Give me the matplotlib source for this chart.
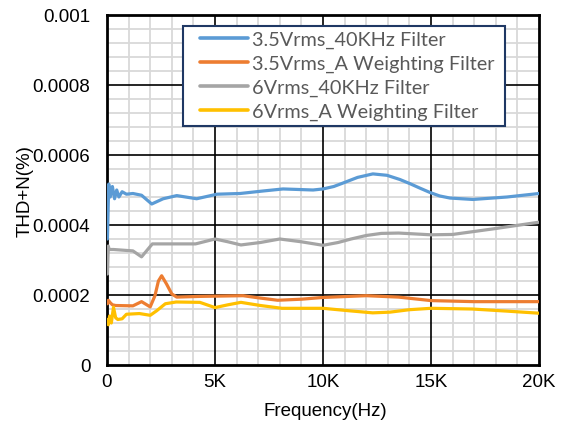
import matplotlib
matplotlib.use("Agg")
import matplotlib.pyplot as plt
from matplotlib.patches import Rectangle
from matplotlib.ticker import FixedLocator, FixedFormatter

# ---------------- data ----------------
series_names = ["3.5Vrms_40KHz Filter", "3.5Vrms_A Weighting Filter",
                "6Vrms_40KHz Filter", "6Vrms_A Weighting Filter"]
series_colors = ["#5B9BD5", "#ED7D31", "#A5A5A5", "#FFC000"]

blue_f = [20, 80, 150, 250, 350, 450, 550, 700, 900, 1200, 1600, 2070, 2600, 3230,
          4150, 5090, 6160, 7200, 8150, 9540, 10000, 10500, 10930, 11600, 12310, 12960,
          13560, 14030, 14500, 14950, 15400, 15880, 16940, 18520, 20000]
blue_v = [3.6e-4, 5.17e-4, 4.8e-4, 5.1e-4, 4.75e-4, 5.0e-4, 4.8e-4, 4.95e-4, 4.88e-4,
          4.9e-4, 4.85e-4, 4.6e-4, 4.75e-4, 4.84e-4, 4.75e-4, 4.88e-4, 4.9e-4, 4.97e-4,
          5.03e-4, 5.0e-4, 5.03e-4, 5.1e-4, 5.2e-4, 5.36e-4, 5.46e-4, 5.42e-4,
          5.3e-4, 5.18e-4, 5.05e-4, 4.93e-4, 4.83e-4, 4.77e-4, 4.73e-4, 4.8e-4, 4.9e-4]

orange_f = [20, 60, 150, 250, 400, 1200, 1600, 2000, 2220, 2380, 2530, 2760, 3000, 3230,
            4300, 6300, 7000, 7900, 9000, 10000, 12000, 13500, 15000, 17000, 20000]
orange_v = [1.75e-4, 1.85e-4, 1.78e-4, 1.72e-4, 1.7e-4, 1.69e-4, 1.81e-4, 1.66e-4,
            1.98e-4, 2.4e-4, 2.55e-4, 2.31e-4, 2.03e-4, 1.94e-4, 1.96e-4, 1.98e-4,
            1.92e-4, 1.85e-4, 1.88e-4, 1.93e-4, 1.98e-4, 1.94e-4, 1.84e-4, 1.81e-4, 1.81e-4]

gray_f = [20, 60, 100, 300, 1200, 1600, 2100, 4100, 5000, 5600, 6200, 7100, 8000, 9000,
          10000, 10700, 11300, 12000, 12700, 13500, 15000, 16000, 18000, 20000]
gray_v = [2.6e-4, 3.4e-4, 3.3e-4, 3.3e-4, 3.26e-4, 3.09e-4, 3.46e-4, 3.46e-4, 3.6e-4,
          3.52e-4, 3.43e-4, 3.5e-4, 3.6e-4, 3.52e-4, 3.42e-4, 3.5e-4, 3.6e-4, 3.7e-4,
          3.76e-4, 3.77e-4, 3.72e-4, 3.73e-4, 3.9e-4, 4.08e-4]

yellow_f = [20, 60, 120, 200, 300, 400, 500, 700, 900, 1500, 2000, 2300, 2700, 3200,
            4300, 5000, 5600, 6200, 7100, 8100, 10000, 11200, 12300, 13100, 14000, 15000,
            16900, 18500, 20000]
yellow_v = [1.3e-4, 1.15e-4, 1.4e-4, 1.2e-4, 1.65e-4, 1.35e-4, 1.3e-4, 1.32e-4, 1.45e-4,
            1.47e-4, 1.42e-4, 1.55e-4, 1.75e-4, 1.8e-4, 1.79e-4, 1.64e-4, 1.72e-4,
            1.79e-4, 1.7e-4, 1.62e-4, 1.62e-4, 1.55e-4, 1.49e-4, 1.51e-4, 1.58e-4,
            1.62e-4, 1.6e-4, 1.54e-4, 1.48e-4]

x_ticks = [0, 5000, 10000, 15000, 20000]
x_labels = ["0", "5K", "10K", "15K", "20K"]
y_ticks = [0, 0.0002, 0.0004, 0.0006, 0.0008, 0.001]
y_labels = ["0", "0.0002", "0.0004", "0.0006", "0.0008", "0.001"]
x_minor_step = 1000
y_minor_step = 0.00004

# ---------------- figure ----------------
W, H = 568, 431
fig = plt.figure(figsize=(W/100, H/100), dpi=100)
ax = fig.add_axes([107/W, 1-366/H, 432/W, 350/H])

all_f = [blue_f, orange_f, gray_f, yellow_f]
all_v = [blue_v, orange_v, gray_v, yellow_v]
for f, v, c, n in zip(all_f, all_v, series_colors, series_names):
    ax.plot(f, v, color=c, lw=2.3, label=n, solid_joinstyle="round",
            solid_capstyle="round", zorder=3)

ax.set_xlim(0, 20000)
ax.set_ylim(0, 0.001)
ax.xaxis.set_major_locator(FixedLocator(x_ticks))
ax.xaxis.set_major_formatter(FixedFormatter(x_labels))
ax.yaxis.set_major_locator(FixedLocator(y_ticks))
ax.yaxis.set_major_formatter(FixedFormatter(y_labels))
x_minor = [i * x_minor_step for i in range(1, 20) if i % 5 != 0]
y_minor = [i * y_minor_step for i in range(1, 25) if i % 5 != 0]
ax.xaxis.set_minor_locator(FixedLocator(x_minor))
ax.yaxis.set_minor_locator(FixedLocator(y_minor))

ax.grid(which="minor", color="#D9D9D9", lw=1.3)
ax.set_axisbelow(True)
# major grid drawn above the minor grid
for xv in x_ticks[1:-1]:
    ax.axvline(xv, color="black", lw=1.2, zorder=1)
for yv in y_ticks[1:-1]:
    ax.axhline(yv, color="black", lw=1.2, zorder=1)
for s in ax.spines.values():
    s.set_linewidth(2.0)
    s.set_color("black")

ax.tick_params(which="both", length=0)
ax.tick_params(axis="y", pad=12)
ax.tick_params(axis="x", pad=6)
for lab in ax.get_xticklabels() + ax.get_yticklabels():
    lab.set_fontfamily("Liberation Sans")
    lab.set_fontsize(13.5)

ax.set_xlabel("Frequency(Hz)", fontfamily="Liberation Sans", fontsize=13.5)
ax.set_ylabel("THD+N(%)", fontfamily="Liberation Sans", fontsize=13.5)
ax.xaxis.set_label_coords(0.505, -0.129)
ax.yaxis.set_label_coords(-0.19, 0.5)
ax.xaxis.label.set_va("center")
ax.yaxis.label.set_va("center")

# legend box (Excel style) drawn as a rectangle + frameless legend
box = Rectangle((183/W, 1-127/H), (505-183)/W, (127-27)/H, transform=fig.transFigure,
                facecolor="white", edgecolor="#1F3864", lw=1.5, zorder=5,
                clip_on=False)
ax.add_artist(box)

leg = ax.legend(loc="upper left", bbox_to_anchor=(200/W, 1-32/H),
                bbox_transform=fig.transFigure, frameon=False,
                prop=dict(family="Lato", size=14.3), handlelength=2.4,
                handletextpad=0.2, labelspacing=0.34, borderpad=0,
                borderaxespad=0)
for t in leg.get_texts():
    t.set_color("#595959")
for h in leg.get_lines():
    h.set_linewidth(2.6)
leg.set_zorder(6)

fig.savefig("out.png", dpi=100)
